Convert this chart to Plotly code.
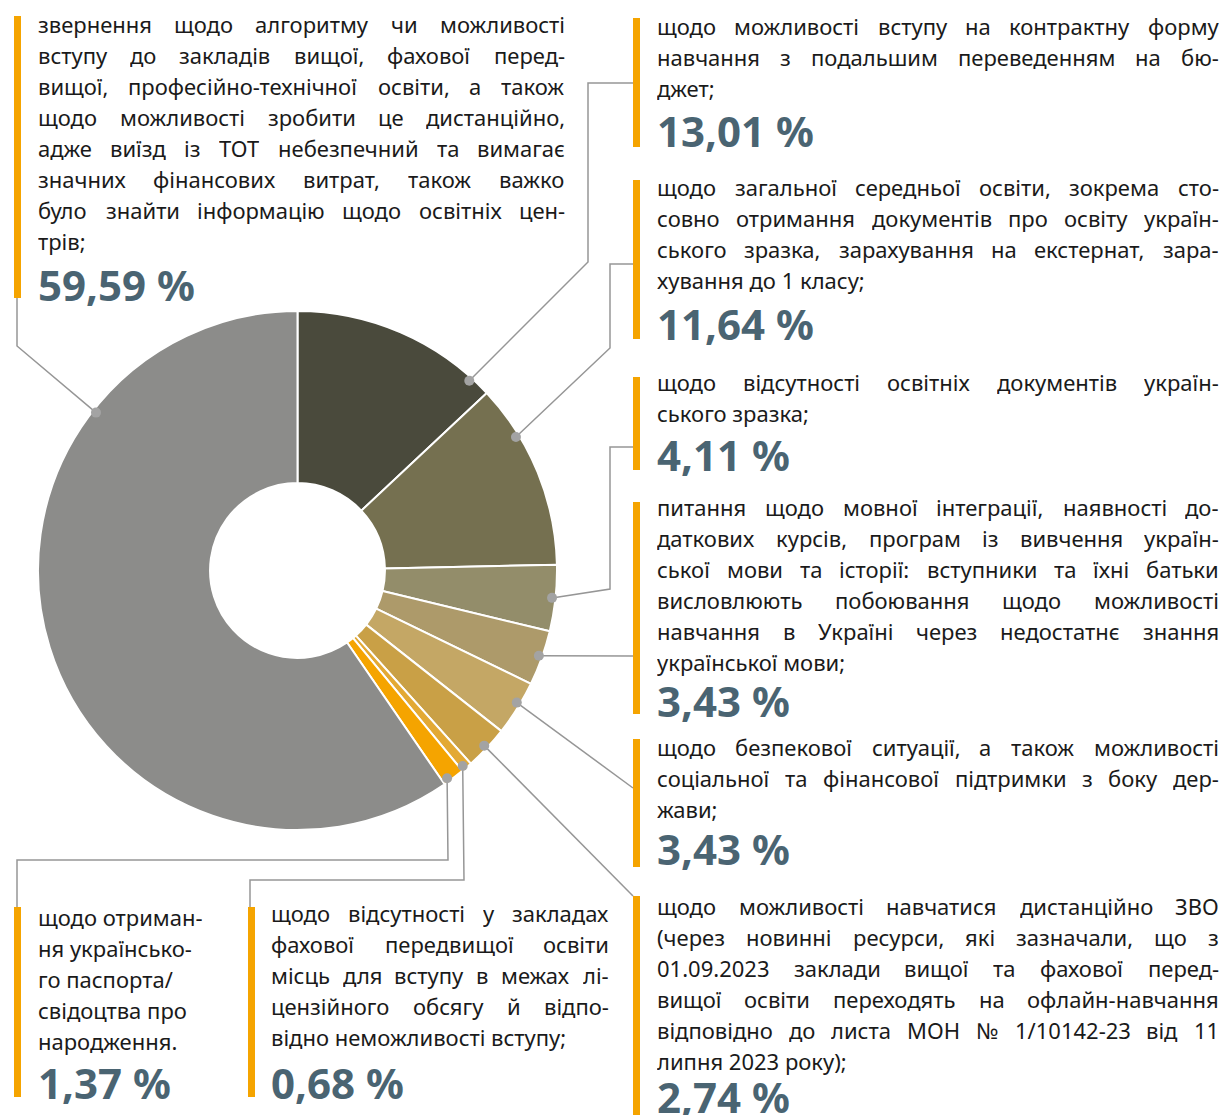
import math
import os
import struct

import plotly.graph_objects as go

# ---------------- data ----------------
values = [13.01, 11.64, 4.11, 3.43, 3.43, 2.74, 0.68, 1.37, 59.59]
pct_labels = ["13,01 %", "11,64 %", "4,11 %", "3,43 %", "3,43 %", "2,74 %", "0,68 %", "1,37 %", "59,59 %"]
slice_colors = ["#4a4a3c", "#757050", "#938d6a", "#ad9a6a", "#c4a765", "#c9a046", "#e3a934", "#f5a400", "#8c8c8a"]

text_13_01 = [
    "щодо можливості вступу на контрактну форму",
    "навчання з подальшим переведенням на бю-",
    "джет;",
]
text_11_64 = [
    "щодо загальної середньої освіти, зокрема сто-",
    "совно отримання документів про освіту україн-",
    "ського зразка, зарахування на екстернат, зара-",
    "хування до 1 класу;",
]
text_4_11 = [
    "щодо відсутності освітніх документів україн-",
    "ського зразка;",
]
text_3_43a = [
    "питання щодо мовної інтеграції, наявності до-",
    "даткових курсів, програм із вивчення україн-",
    "ської мови та історії: вступники та їхні батьки",
    "висловлюють побоювання щодо можливості",
    "навчання в Україні через недостатнє знання",
    "української мови;",
]
text_3_43b = [
    "щодо безпекової ситуації, а також можливості",
    "соціальної та фінансової підтримки з боку дер-",
    "жави;",
]
text_2_74 = [
    "щодо можливості навчатися дистанційно ЗВО",
    "(через новинні ресурси, які зазначали, що з",
    "01.09.2023 заклади вищої та фахової перед-",
    "вищої освіти переходять на офлайн-навчання",
    "відповідно до листа МОН № 1/10142-23 від 11",
    "липня 2023 року);",
]
text_0_68 = [
    "щодо відсутності у закладах",
    "фахової передвищої освіти",
    "місць для вступу в межах лі-",
    "цензійного обсягу й відпо-",
    "відно неможливості вступу;",
]
text_1_37 = [
    "щодо отриман-",
    "ня українсько-",
    "го паспорта/",
    "свідоцтва про",
    "народження.",
]
text_59_59 = [
    "звернення щодо алгоритму чи можливості",
    "вступу до закладів вищої, фахової перед-",
    "вищої, професійно-технічної освіти, а також",
    "щодо можливості зробити це дистанційно,",
    "адже виїзд із ТОТ небезпечний та вимагає",
    "значних фінансових витрат, також важко",
    "було знайти інформацію щодо освітніх цен-",
    "трів;",
]
slice_texts = [text_13_01, text_11_64, text_4_11, text_3_43a, text_3_43b,
               text_2_74, text_0_68, text_1_37, text_59_59]

# ---------------- geometry / style ----------------
W, H = 1231, 1115
CX, CY, R = 297.5, 570.5, 259.5
HOLE = 0.337
R_DOT = 256
ORANGE = "#f5a400"
LINE_GREY = "#969696"
DOT_GREY = "#a3a3a3"
PCT_COLOR = "#4a6472"
BODY_SIZE = 22
PCT_SIZE = 42
LINE_STEP = 31.0

# where along each slice (fraction of its arc) the leader dot sits
anchor_frac = [0.90, 0.28, 0.5, 0.48, 0.42, 0.5, 0.7, 0.75, 0.758]
# extra waypoints of each leader after the dot
routes = [
    [(588, 262), (588, 83), (633, 83)],
    [(610, 348), (610, 264), (633, 264)],
    [(610, 589), (610, 447), (633, 447)],
    [(633, 656)],
    [(633, 788)],
    [(633, 896)],
    [(464, 880), (250, 880), (250, 907)],
    [(448, 860), (17, 860), (17, 907)],
    [(17, 346), (17, 298)],
]
# text blocks: x start, x end (justify), first line center y, percent center y, bar (x, y0, y1), justify?
blocks = [
    dict(x0=657, x1=1219, y=26, py=130, bar=(633, 18, 147), just=True),
    dict(x0=657, x1=1219, y=187, py=323, bar=(633, 180, 339), just=True),
    dict(x0=657, x1=1219, y=382, py=454, bar=(633, 377, 470), just=True),
    dict(x0=657, x1=1219, y=507, py=700, bar=(633, 502, 714), just=True),
    dict(x0=657, x1=1219, y=747, py=848, bar=(633, 739, 867), just=True),
    dict(x0=657, x1=1219, y=906, py=1096, bar=(633, 896, 1120), just=True),
    dict(x0=271, x1=609, y=913, py=1082, bar=(248, 907, 1097), just=True),
    dict(x0=38, x1=230, y=917, py=1082, bar=(14, 907, 1097), just=False),
    dict(x0=38, x1=565, y=24, py=284, bar=(14, 16, 298), just=True),
]


# ---------------- font metrics (for justified text) ----------------
def _font_files():
    roots = ["/usr/share/fonts", "/usr/local/share/fonts",
             os.path.expanduser("~/.fonts"), os.path.expanduser("~/.local/share/fonts")]
    for r in roots:
        for dp, _, fn in os.walk(r):
            for f in sorted(fn):
                if f.lower().endswith((".ttf", ".otf", ".ttc")):
                    yield os.path.join(dp, f)


def _parse(data, base):
    nt = struct.unpack(">H", data[base + 4:base + 6])[0]
    tables = {}
    for i in range(nt):
        tag, _, off, _ = struct.unpack(">4sIII", data[base + 12 + 16 * i:base + 28 + 16 * i])
        tables[tag.decode("latin1")] = off
    no = tables["name"]
    _, count, soff = struct.unpack(">HHH", data[no:no + 6])
    names = {}
    for i in range(count):
        pid, eid, lid, nid, ln, o = struct.unpack(">HHHHHH", data[no + 6 + 12 * i:no + 18 + 12 * i])
        raw = data[no + soff + o:no + soff + o + ln]
        try:
            s = raw.decode("utf-16-be") if pid in (0, 3) else raw.decode("latin1")
        except Exception:
            continue
        if pid == 3 and lid != 0x409:
            continue
        names.setdefault(nid, s)
    family = names.get(16, names.get(1, ""))
    sub = names.get(17, names.get(2, ""))
    upem = struct.unpack(">H", data[tables["head"] + 18:tables["head"] + 20])[0]
    nhm = struct.unpack(">H", data[tables["hhea"] + 34:tables["hhea"] + 36])[0]
    ho = tables["hmtx"]
    adv = struct.unpack(">%dH" % (2 * nhm), data[ho:ho + 4 * nhm])[0::2]
    co = tables["cmap"]
    n = struct.unpack(">H", data[co + 2:co + 4])[0]
    st = None
    for i in range(n):
        pid, eid, so = struct.unpack(">HHI", data[co + 4 + 8 * i:co + 12 + 8 * i])
        fmt = struct.unpack(">H", data[co + so:co + so + 2])[0]
        if fmt == 4 and ((pid == 3 and eid == 1) or pid == 0):
            st = co + so
            break
    if st is None:
        return None
    sx2 = struct.unpack(">H", data[st + 6:st + 8])[0]
    seg = sx2 // 2
    ends = struct.unpack(">%dH" % seg, data[st + 14:st + 14 + sx2])
    starts = struct.unpack(">%dH" % seg, data[st + 16 + sx2:st + 16 + 2 * sx2])
    deltas = struct.unpack(">%dh" % seg, data[st + 16 + 2 * sx2:st + 16 + 3 * sx2])
    rpos = st + 16 + 3 * sx2
    roffs = struct.unpack(">%dH" % seg, data[rpos:rpos + sx2])

    def gid(c):
        for i in range(seg):
            if ends[i] >= c:
                if starts[i] > c:
                    return 0
                if roffs[i] == 0:
                    return (c + deltas[i]) & 0xFFFF
                addr = rpos + 2 * i + roffs[i] + 2 * (c - starts[i])
                g = struct.unpack(">H", data[addr:addr + 2])[0]
                return (g + deltas[i]) & 0xFFFF if g else 0
        return 0

    def width(s, size):
        tot = 0
        for ch in s:
            g = gid(ord(ch))
            tot += adv[g] if g < nhm else adv[-1]
        return tot * size / upem

    return family, sub, gid, width


def find_metrics(families):
    found = {}
    for path in _font_files():
        try:
            with open(path, "rb") as f:
                data = f.read()
            bases = [0]
            if data[:4] == b"ttcf":
                nf = struct.unpack(">I", data[8:12])[0]
                bases = list(struct.unpack(">%dI" % nf, data[12:12 + 4 * nf]))
            for b in bases:
                res = _parse(data, b)
                if res is None:
                    continue
                fam, sub, gid, width = res
                if fam in families and sub in ("Regular", "Book", "Normal") and fam not in found:
                    if gid(ord("щ")) and gid(ord("a")) and gid(ord("і")):
                        found[fam] = width
        except Exception:
            continue
    for fam in families:
        if fam in found:
            return fam, found[fam]
    return families[0], None


BODY_FONT, measure = find_metrics(["Noto Sans", "Open Sans", "DejaVu Sans"])

# ---------------- figure ----------------
fig = go.Figure()
fig.add_trace(go.Pie(
    values=values,
    sort=False,
    direction="clockwise",
    rotation=0,
    hole=HOLE,
    marker=dict(colors=slice_colors, line=dict(color="white", width=2)),
    textinfo="none",
    hoverinfo="skip",
    showlegend=False,
    domain=dict(x=[(CX - R) / W, (CX + R) / W], y=[1 - (CY + R) / H, 1 - (CY - R) / H]),
))
# invisible scatter to create cartesian axes used for the overlay geometry
fig.add_trace(go.Scatter(x=[0, W], y=[0, H], mode="markers", marker=dict(opacity=0),
                         hoverinfo="skip", showlegend=False))

shapes = []
annotations = []
total = sum(values)
cum = 0.0
for i, v in enumerate(values):
    a0 = cum / total * 360
    a1 = (cum + v) / total * 360
    cum += v
    ang = math.radians(a0 + (a1 - a0) * anchor_frac[i])
    dx = CX + R_DOT * math.sin(ang)
    dy = CY - R_DOT * math.cos(ang)
    pts = [(dx, dy)] + routes[i]
    path = "M " + " L ".join(f"{px:.1f},{py:.1f}" for px, py in pts)
    shapes.append(dict(type="path", path=path, xref="x", yref="y",
                       line=dict(color=LINE_GREY, width=1.5), layer="above"))
    shapes.append(dict(type="circle", xref="x", yref="y", x0=dx - 5, x1=dx + 5, y0=dy - 5, y1=dy + 5,
                       fillcolor=DOT_GREY, line=dict(width=0), layer="above"))

    b = blocks[i]
    bx, by0, by1 = b["bar"]
    shapes.append(dict(type="rect", xref="x", yref="y", x0=bx, x1=bx + 7, y0=by0, y1=by1,
                       fillcolor=ORANGE, line=dict(width=0), layer="above"))

    lines = slice_texts[i]
    body_font = dict(family=BODY_FONT, size=BODY_SIZE, color="#1a1a1a")
    common = dict(xref="x", yref="y", showarrow=False, xanchor="left", yanchor="middle",
                  borderpad=0, borderwidth=0, height=28, valign="middle", font=body_font)
    for li, line in enumerate(lines):
        yy = b["y"] + li * LINE_STEP
        words = line.split(" ")
        justify = b["just"] and li < len(lines) - 1 and len(words) > 1 and measure is not None
        if justify:
            ws = [measure(w, BODY_SIZE) for w in words]
            gap = (b["x1"] - b["x0"] - sum(ws)) / (len(words) - 1)
            gap = max(gap, 0.2 * BODY_SIZE)
            xx = b["x0"]
            for w, wd in zip(words, ws):
                annotations.append(dict(x=xx, y=yy, text=w, **common))
                xx += wd + gap
        else:
            annotations.append(dict(x=b["x0"], y=yy, text=line, **common))
    annotations.append(dict(x=b["x0"], y=b["py"], xref="x", yref="y", text=f"<b>{pct_labels[i]}</b>",
                            showarrow=False, xanchor="left", yanchor="middle", borderpad=0, borderwidth=0,
                            height=46, valign="middle",
                            font=dict(family=BODY_FONT, size=PCT_SIZE, color=PCT_COLOR)))

fig.update_layout(
    width=W, height=H,
    margin=dict(l=0, r=0, t=0, b=0),
    paper_bgcolor="white", plot_bgcolor="white",
    xaxis=dict(range=[0, W], visible=False, fixedrange=True, domain=[0, 1]),
    yaxis=dict(range=[H, 0], visible=False, fixedrange=True, domain=[0, 1]),
    shapes=shapes,
    annotations=annotations,
    showlegend=False,
)

fig.write_html("out.html", config={"displayModeBar": False},
               post_script="document.body.style.margin='0';document.body.style.overflow='hidden';")
